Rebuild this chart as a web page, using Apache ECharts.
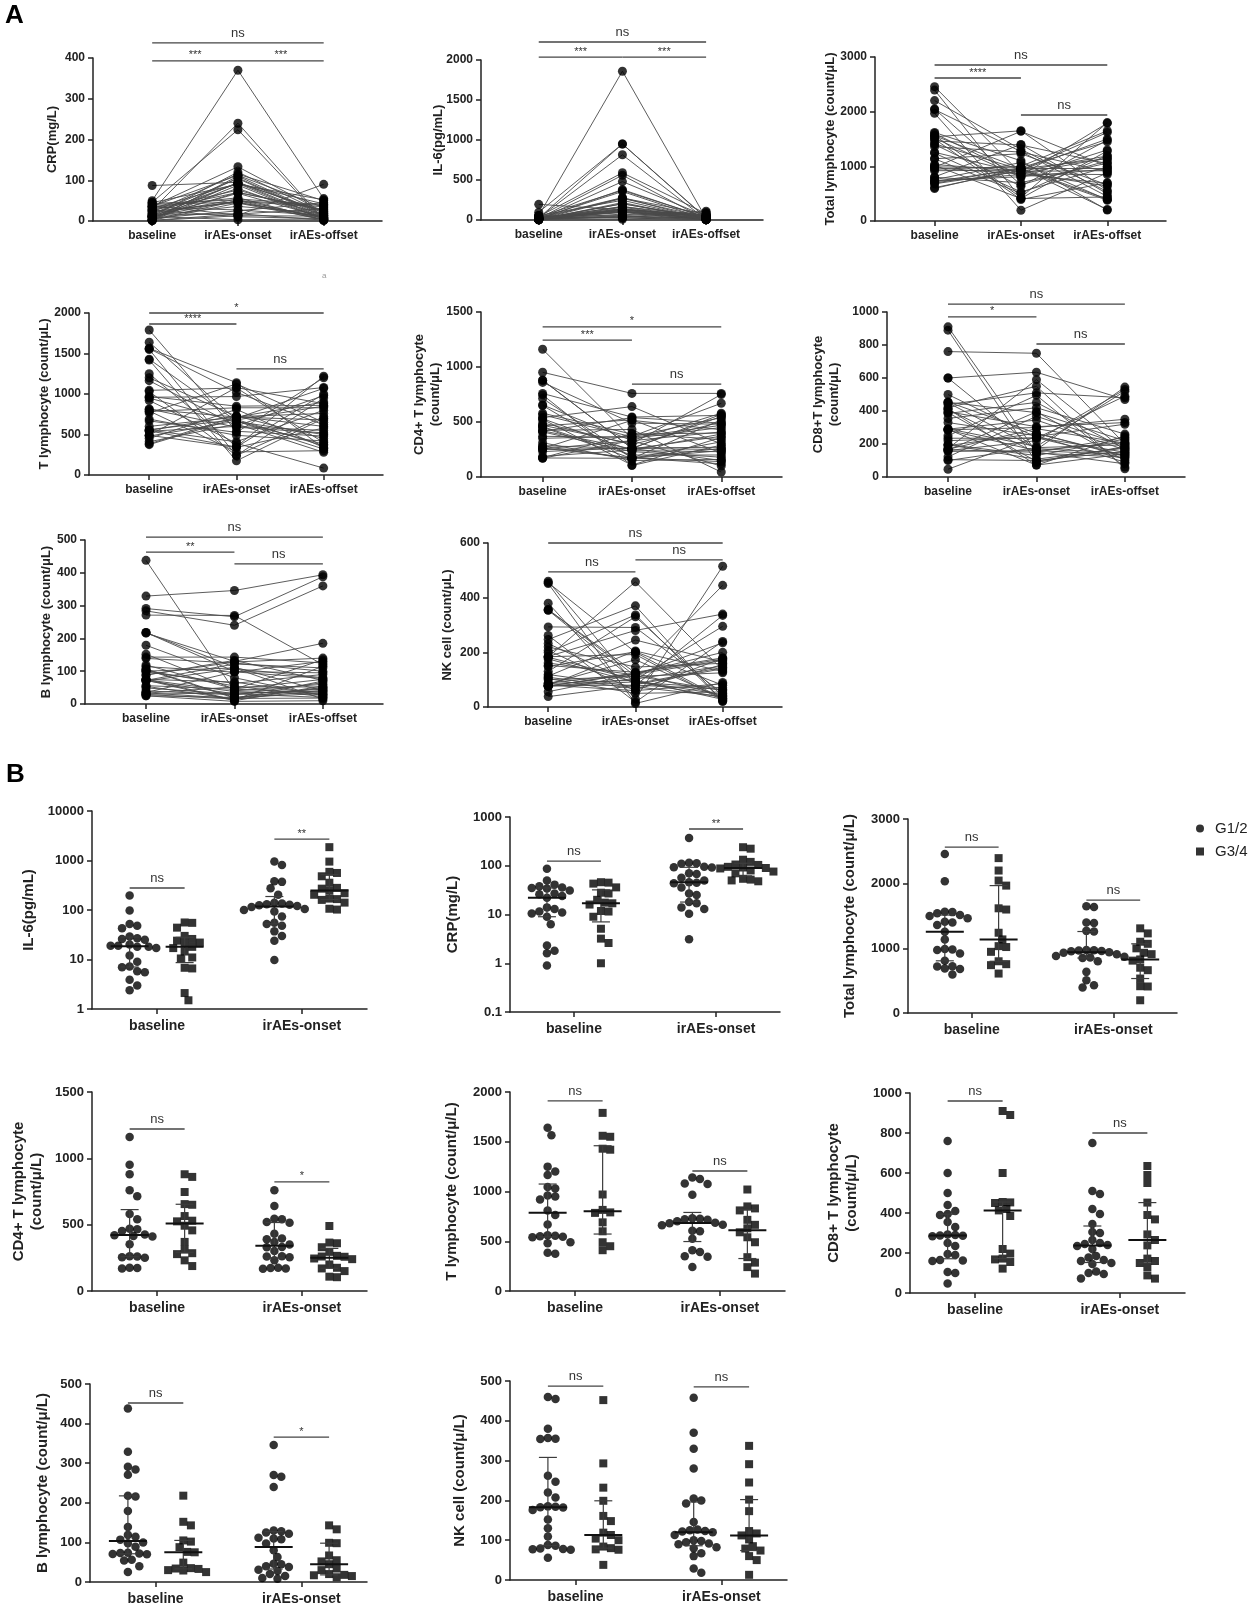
<!DOCTYPE html>
<html>
<head>
<meta charset="utf-8">
<script src="https://cdn.jsdelivr.net/npm/echarts@6/dist/echarts.min.js"></script>
<style>
html, body { margin: 0; padding: 0; background: #fff; }
#main { width: 1250px; height: 1607px; }
</style>
</head>
<body>
<div id="main"></div>
<script>
var timepoints = ['baseline', 'irAEs-onset', 'irAEs-offset'];
var grades = ['G1/2', 'G3/4'];

// IL-6 (pg/mL)
var il6_base_g12 = [196, 98, 52, 48, 43, 29, 27, 26, 25, 20, 19, 19, 18, 18, 17, 12, 9, 7.2, 7, 5.8, 5.5, 3.9, 3.0, 2.4];
var il6_base_g34 = [56, 55, 44, 30, 26, 24, 22, 21, 18, 17, 14.5, 11, 10.5, 6.8, 6.6, 2.1, 1.5];
var il6_onset_g12 = [128, 950, 55, 24, 370, 115, 140, 815, 30, 100, 125, 9.8, 52, 275, 93, 380, 74, 120, 37, 203, 48, 130, 105, 135];
var il6_onset_g34 = [1860, 247, 590, 102, 280, 950, 166, 356, 106, 560, 203, 170, 480, 141, 270, 218, 160];
var il6_offset = [60, 22, 110, 8, 35, 14, 45, 5, 95, 26, 12, 40, 18, 72, 6, 30, 9, 50, 16, 24, 3, 65, 11, 38, 20, 7, 80, 15, 4, 28, 55, 10, 42, 6, 25, 17, 48, 8, 33, 5, 4];

// CRP (mg/L)
var crp_base_g12 = [87, 50, 41, 38, 36, 35, 34, 31, 27, 26, 24, 22, 14, 13, 11.5, 11, 10.5, 9, 6.3, 2.3, 1.8, 1.6, 0.9];
var crp_base_g34 = [46, 45, 43, 36, 28, 27, 20, 17.5, 17, 16, 11.8, 11.5, 9, 5.1, 3.2, 2.6, 1.0];
var crp_onset_g12 = [95, 370, 46, 14, 112, 57, 27, 92, 10.4, 70, 45, 115, 18, 36, 50, 3.1, 93, 68, 25, 110, 44, 17, 13];
var crp_onset_g34 = [224, 90, 52, 133, 76, 240, 48, 104, 92, 54, 120, 80, 70, 106, 50, 95, 88];
var crp_offset = [20, 55, 8, 90, 33, 3, 14, 42, 6, 26, 11, 50, 2, 18, 38, 5, 24, 9, 45, 15, 4, 30, 12, 1, 52, 7, 22, 16, 3, 35, 10, 6, 40, 19, 5, 28, 13, 2, 8, 4];

// Total lymphocyte (count/uL)
var total_base_g12 = [2457, 2038, 1567, 1560, 1541, 1515, 1500, 1464, 1412, 1400, 1360, 1257, 1138, 990, 983, 975, 920, 807, 724, 720, 688, 680, 595];
var total_base_g34 = [2395, 2203, 2048, 1970, 1619, 1600, 1241, 1138, 1034, 1020, 946, 800, 755, 740, 610];
var total_onset_g12 = [870, 1270, 429, 960, 1650, 800, 393, 1390, 940, 636, 1260, 880, 507, 970, 1640, 860, 930, 1400, 955, 850, 975, 910, 965];
var total_onset_g34 = [414, 1309, 662, 197, 1102, 828, 533, 1231, 910, 410, 1000, 700, 1070, 810, 931];
var total_offset = [1150, 450, 1800, 960, 560, 1300, 700, 1050, 380, 1480, 900, 640, 1200, 210, 1000, 850, 1620, 500, 1140, 690, 1450, 920, 400, 1280, 540, 1100, 880, 200, 1790, 990, 660, 1190, 440, 1650, 1060, 390, 950, 1500];

// CD4+ T lymphocyte
var cd4_base_g12 = [1161, 952, 880, 759, 714, 580, 540, 470, 465, 452, 425, 420, 415, 410, 352, 262, 260, 255, 250, 175, 173, 170];
var cd4_base_g34 = [880, 860, 746, 655, 650, 565, 530, 525, 492, 457, 370, 312, 285, 278, 231, 188];
var cd4_onset_g12 = [350, 760, 260, 545, 175, 390, 640, 302, 520, 168, 432, 255, 540, 231, 369, 173, 515, 330, 262, 395, 170, 332];
var cd4_onset_g34 = [260, 490, 104, 330, 175, 365, 240, 108, 295, 200, 360, 150, 258, 170, 265, 245];
var cd4_offset = [450, 760, 250, 560, 140, 400, 300, 750, 220, 520, 45, 370, 490, 180, 670, 260, 430, 100, 550, 340, 240, 580, 150, 480, 290, 410, 120, 540, 230, 360, 500, 200, 470, 160, 570, 320, 270, 390];

// T lymphocyte
var t_base_g12 = [1640, 1565, 1250, 1200, 1165, 1045, 1030, 960, 950, 920, 810, 765, 668, 560, 555, 550, 545, 540, 490, 480, 385, 375];
var t_base_g34 = [1790, 1560, 1550, 1430, 1420, 970, 815, 790, 785, 690, 600, 490, 450, 410];
var t_onset_g12 = [680, 1140, 350, 725, 605, 1075, 241, 968, 660, 392, 715, 1125, 526, 685, 410, 730, 345, 600, 1080, 665, 720, 700];
var t_onset_g34 = [540, 1020, 240, 665, 175, 850, 590, 285, 830, 490, 715, 340, 810, 630];
var t_offset = [850, 330, 1220, 600, 980, 400, 720, 1080, 500, 85, 900, 650, 1200, 360, 800, 450, 1000, 550, 880, 320, 760, 1070, 480, 620, 950, 380, 700, 860, 520, 300, 830, 420, 680, 580, 340, 280];

// CD8+ T lymphocyte
var cd8_base_g12 = [760, 600, 500, 440, 410, 395, 390, 355, 330, 292, 290, 288, 286, 284, 250, 235, 195, 190, 165, 163, 160, 105, 100, 47];
var cd8_base_g34 = [910, 890, 600, 455, 453, 450, 420, 413, 385, 220, 197, 172, 168, 155, 122];
var cd8_onset_g12 = [750, 165, 240, 510, 145, 305, 95, 420, 250, 185, 345, 72, 300, 160, 495, 235, 108, 265, 150, 395, 220, 100, 178, 245];
var cd8_onset_g34 = [150, 88, 635, 265, 390, 172, 550, 72, 452, 238, 130, 590, 293, 160, 368];
var cd8_offset = [200, 545, 150, 480, 120, 330, 180, 260, 90, 520, 165, 140, 350, 210, 60, 490, 175, 130, 240, 100, 530, 155, 195, 320, 80, 185, 470, 125, 220, 145, 50, 250, 170, 110, 230, 160, 205, 135, 190];

// B lymphocyte
var bcell_base_g12 = [438, 329, 291, 284, 271, 218, 216, 179, 139, 119, 114, 107, 100, 98, 89, 74, 73, 72, 71, 70, 56, 54, 40, 25];
var bcell_base_g34 = [218, 152, 143, 105, 102, 88, 76, 75, 49, 35, 34, 33, 30, 29, 25];
var bcell_onset_g12 = [40, 346, 266, 240, 270, 112, 130, 80, 125, 46, 97, 20, 110, 63, 128, 38, 10, 122, 31, 108, 45, 15, 28, 8];
var bcell_onset_g34 = [99, 45, 143, 18, 55, 133, 12, 67, 30, 98, 17, 52, 34, 15, 20];
var bcell_offset = [60, 394, 388, 360, 120, 40, 185, 25, 100, 75, 130, 48, 15, 90, 140, 30, 55, 110, 20, 80, 135, 42, 65, 10, 95, 35, 125, 50, 22, 72, 115, 28, 45, 78, 18, 52, 38, 70, 32];

// NK cell
var nk_base_g12 = [460, 455, 380, 357, 355, 354, 262, 247, 220, 207, 185, 184, 183, 182, 176, 152, 130, 109, 88, 86, 79, 78, 77, 76, 56];
var nk_base_g34 = [452, 293, 232, 199, 161, 148, 119, 113, 104, 100, 84, 80, 77, 76, 38];
var nk_onset_g12 = [82, 200, 29, 113, 125, 95, 18, 370, 146, 60, 280, 192, 458, 100, 90, 127, 330, 67, 123, 98, 205, 80, 122, 92, 120];
var nk_onset_g34 = [13, 291, 85, 337, 117, 202, 74, 245, 50, 112, 173, 60, 123, 102, 79];
var nk_offset = [140, 30, 515, 60, 175, 45, 240, 20, 160, 85, 340, 25, 135, 295, 70, 180, 40, 155, 445, 28, 130, 65, 200, 35, 170, 90, 50, 145, 22, 235, 80, 38, 165, 55, 125, 32, 178, 42, 150, 335];

var measures = {
    il6: {b12: il6_base_g12, b34: il6_base_g34, o12: il6_onset_g12, o34: il6_onset_g34, off: il6_offset},
    crp: {b12: crp_base_g12, b34: crp_base_g34, o12: crp_onset_g12, o34: crp_onset_g34, off: crp_offset},
    total: {b12: total_base_g12, b34: total_base_g34, o12: total_onset_g12, o34: total_onset_g34, off: total_offset},
    cd4: {b12: cd4_base_g12, b34: cd4_base_g34, o12: cd4_onset_g12, o34: cd4_onset_g34, off: cd4_offset},
    t: {b12: t_base_g12, b34: t_base_g34, o12: t_onset_g12, o34: t_onset_g34, off: t_offset},
    cd8: {b12: cd8_base_g12, b34: cd8_base_g34, o12: cd8_onset_g12, o34: cd8_onset_g34, off: cd8_offset},
    bcell: {b12: bcell_base_g12, b34: bcell_base_g34, o12: bcell_onset_g12, o34: bcell_onset_g34, off: bcell_offset},
    nk: {b12: nk_base_g12, b34: nk_base_g34, o12: nk_onset_g12, o34: nk_onset_g34, off: nk_offset}
};

// panel A: paired plots, marks = [from, to, y, text]
var panelsA = [
    {m: 'crp', name: 'CRP(mg/L)', x0: 93, x1: 382, top: 58, y0: 221, max: 400, step: 100, nameX: 52,
        marks: [[0, 2, 437, 'ns'], [0, 1, 393, '***'], [1, 2, 393, '***']]},
    {m: 'il6', name: 'IL-6(pg/mL)', x0: 481, x1: 763, top: 60, y0: 220, max: 2000, step: 500, nameX: 438,
        marks: [[0, 2, 2225, 'ns'], [0, 1, 2037, '***'], [1, 2, 2037, '***']]},
    {m: 'total', name: 'Total lymphocyte (count/μL)', x0: 875, x1: 1166, top: 57, y0: 221, max: 3000, step: 1000, nameX: 830,
        marks: [[0, 2, 2854, 'ns'], [0, 1, 2616, '****'], [1, 2, 1939, 'ns']]},
    {m: 't', name: 'T lymphocyte (count/μL)', x0: 89, x1: 383, top: 313, y0: 475, max: 2000, step: 500, nameX: 44,
        marks: [[0, 2, 2000, '*'], [0, 1, 1864, '****'], [1, 2, 1309, 'ns']]},
    {m: 'cd4', name: 'CD4+ T lymphocyte\n(count/μL)', x0: 481, x1: 782, top: 312, y0: 477, max: 1500, step: 500, nameX: 427,
        marks: [[0, 2, 1364, '*'], [0, 1, 1245, '***'], [1, 2, 845, 'ns']]},
    {m: 'cd8', name: 'CD8+T lymphocyte\n(count/μL)', x0: 887, x1: 1185, top: 312, y0: 477, max: 1000, step: 200, nameX: 826,
        marks: [[0, 2, 1048, 'ns'], [0, 1, 970, '*'], [1, 2, 806, 'ns']]},
    {m: 'bcell', name: 'B lymphocyte (count/μL)', x0: 85, x1: 383, top: 540, y0: 704, max: 500, step: 100, nameX: 46,
        marks: [[0, 2, 509, 'ns'], [0, 1, 463, '**'], [1, 2, 427, 'ns']]},
    {m: 'nk', name: 'NK cell (count/μL)', x0: 488, x1: 782, top: 543, y0: 707, max: 600, step: 200, nameX: 447,
        marks: [[0, 2, 600, 'ns'], [0, 1, 494, 'ns'], [1, 2, 538, 'ns']]}
];

// panel B: grade comparison, marks = [category, y, text]
var panelsB = [
    {m: 'il6', name: 'IL-6(pg/mL)', x0: 92, x1: 367, top: 811, y0: 1009, log: true, min: 1, max: 10000, nameX: 29,
        marks: [[0, 278, 'ns'], [1, 2700, '**']]},
    {m: 'crp', name: 'CRP(mg/L)', x0: 510, x1: 780, top: 817, y0: 1012, log: true, min: 0.1, max: 1000, nameX: 453,
        marks: [[0, 125, 'ns'], [1, 567, '**']]},
    {m: 'total', name: 'Total lymphocyte (count/μ/L)', x0: 908, x1: 1177, top: 819, y0: 1013, max: 3000, step: 1000, nameX: 850,
        marks: [[0, 2566, 'ns'], [1, 1747, 'ns']]},
    {m: 'cd4', name: 'CD4+ T lymphocyte\n(count/μ/L)', x0: 92, x1: 367, top: 1092, y0: 1291, max: 1500, step: 500, nameX: 28,
        marks: [[0, 1221, 'ns'], [1, 822, '*']]},
    {m: 't', name: 'T lymphocyte (count/μ/L)', x0: 510, x1: 785, top: 1092, y0: 1291, max: 2000, step: 500, nameX: 452,
        marks: [[0, 1910, 'ns'], [1, 1206, 'ns']]},
    {m: 'cd8', name: 'CD8+ T lymphocyte\n(count/μ/L)', x0: 910, x1: 1185, top: 1093, y0: 1293, max: 1000, step: 200, nameX: 843,
        marks: [[0, 960, 'ns'], [1, 800, 'ns']]},
    {m: 'bcell', name: 'B lymphocyte (count/μ/L)', x0: 90, x1: 367, top: 1384, y0: 1582, max: 500, step: 100, nameX: 43,
        marks: [[0, 452, 'ns'], [1, 366, '*']]},
    {m: 'nk', name: 'NK cell (count/μ/L)', x0: 510, x1: 787, top: 1381, y0: 1580, max: 500, step: 100, nameX: 460,
        marks: [[0, 487, 'ns'], [1, 485, 'ns']]}
];

var FONT = 'Arial, "Liberation Sans", Helvetica, sans-serif';
var AX_MIN = -0.69, AX_MAX = 2.68;
var BX_MIN = -0.45, BX_MAX = 1.45, SHIFT = 0.19;
var INK = '#222';

var grids = [], xAxes = [], yAxes = [], series = [], graphics = [];

function fmtNum(v) {
    return String(+(+v).toPrecision(6));
}

function xAxisOpt(g, min, max, ticks, fs, margin) {
    return {
        gridIndex: g, type: 'value', min: min, max: max,
        axisLine: {show: true, onZero: false, lineStyle: {color: INK, width: 1.5}},
        axisTick: {show: true, customValues: ticks, length: 5, lineStyle: {color: INK, width: 1.5}},
        axisLabel: {customValues: ticks, formatter: function (v) { return timepoints[Math.round(v)]; },
            fontSize: fs, fontWeight: 'bold', color: INK, margin: margin, fontFamily: FONT},
        splitLine: {show: false}
    };
}

function yAxisOpt(g, p, fs) {
    var o = {
        gridIndex: g,
        axisLine: {show: true, onZero: false, lineStyle: {color: INK, width: 1.5}},
        axisTick: {show: true, length: 5, lineStyle: {color: INK, width: 1.5}},
        axisLabel: {fontSize: fs, fontWeight: 'bold', color: INK, margin: 8, fontFamily: FONT, formatter: fmtNum},
        splitLine: {show: false}
    };
    if (p.log) {
        o.type = 'log'; o.logBase = 10; o.min = p.min; o.max = p.max;
    } else {
        o.type = 'value'; o.min = 0; o.max = p.max; o.interval = p.step;
    }
    return o;
}

function yName(p, fs) {
    return {
        type: 'text', x: p.nameX, y: (p.top + p.y0) / 2, rotation: Math.PI / 2, silent: true,
        style: {text: p.name, align: 'center', verticalAlign: 'middle', fontSize: fs, fontWeight: 'bold',
            fontFamily: FONT, fill: INK, lineHeight: fs + 3}
    };
}

function bracketSeries(g, list) {
    return {
        type: 'custom', xAxisIndex: g, yAxisIndex: g, silent: true, z: 6, clip: false,
        data: list.map(function (b) { return [b.from, b.y]; }),
        renderItem: function (params, api) {
            var b = list[params.dataIndex];
            var p1 = api.coord([b.from, b.y]), p2 = api.coord([b.to, b.y]);
            var star = b.text.charAt(0) === '*';
            return {type: 'group', children: [
                {type: 'line', shape: {x1: p1[0], y1: p1[1], x2: p2[0], y2: p2[1]},
                    style: {stroke: '#444', lineWidth: 1.3}},
                {type: 'text', x: (p1[0] + p2[0]) / 2, y: p1[1] - (star ? 0 : 3),
                    style: {text: b.text, align: 'center', verticalAlign: 'bottom',
                        fontSize: star ? 11 : 13, fontFamily: FONT, fill: '#333'}}
            ]};
        }
    };
}

// sideways spread of a group so that symbols do not pile up (dot plot layout)
function swarm(values, xc, p) {
    var H = p.y0 - p.top, W = p.x1 - p.x0;
    var unitPx = W / (BX_MAX - BX_MIN);
    var f = p.log ? function (v) { return Math.log(v) / Math.LN10; } : function (v) { return v; };
    var lo = f(p.log ? p.min : 0), hi = f(p.max);
    var D = 7.6, step = D / 2;
    var order = values.map(function (v, i) { return i; })
        .sort(function (a, b) { return values[b] - values[a]; });
    var placed = [], out = [];
    order.forEach(function (i) {
        var py = (f(values[i]) - lo) / (hi - lo) * H;
        var dx = 0;
        for (var k = 0; k < 60; k++) {
            dx = (k % 2 === 1 ? 1 : -1) * Math.ceil(k / 2) * step;
            var ok = placed.every(function (q) {
                var ex = q[0] - dx, ey = q[1] - py;
                return ex * ex + ey * ey >= D * D;
            });
            if (ok) break;
        }
        placed.push([dx, py]);
        out.push([xc + dx / unitPx, values[i]]);
    });
    return out;
}

function quart(sorted, q) {
    var h = (sorted.length + 1) * q - 1;
    if (h <= 0) return sorted[0];
    if (h >= sorted.length - 1) return sorted[sorted.length - 1];
    var lo = Math.floor(h);
    return sorted[lo] + (h - lo) * (sorted[lo + 1] - sorted[lo]);
}

function summary(values) {
    var s = values.slice().sort(function (a, b) { return a - b; });
    return [quart(s, 0.5), quart(s, 0.25), quart(s, 0.75)];
}

function renderSummary(params, api) {
    var x = api.value(0);
    var m = api.coord([x, api.value(1)]);
    var a = api.coord([x, api.value(2)]);
    var b = api.coord([x, api.value(3)]);
    var thin = {stroke: '#3c3c3c', lineWidth: 1.2};
    return {type: 'group', children: [
        {type: 'line', shape: {x1: a[0], y1: a[1], x2: b[0], y2: b[1]}, style: thin},
        {type: 'line', shape: {x1: a[0] - 9, y1: a[1], x2: a[0] + 9, y2: a[1]}, style: thin},
        {type: 'line', shape: {x1: b[0] - 9, y1: b[1], x2: b[0] + 9, y2: b[1]}, style: thin},
        {type: 'line', shape: {x1: m[0] - 19, y1: m[1], x2: m[0] + 19, y2: m[1]}, style: {stroke: '#111', lineWidth: 2}}
    ]};
}

// ---- panel A ----
panelsA.forEach(function (p) {
    var g = grids.length;
    var d = measures[p.m];
    grids.push({left: p.x0, top: p.top, width: p.x1 - p.x0, height: p.y0 - p.top});
    xAxes.push(xAxisOpt(g, AX_MIN, AX_MAX, [0, 1, 2], 12, 9));
    yAxes.push(yAxisOpt(g, p, 12));

    var cols = [d.b12.concat(d.b34), d.o12.concat(d.o34), d.off];
    var n = Math.max(cols[0].length, cols[1].length, cols[2].length);
    var paths = [];
    for (var i = 0; i < n; i++) {
        var pts = [];
        cols.forEach(function (c, t) { if (c[i] != null) pts.push([t, c[i]]); });
        if (pts.length > 1) paths.push({coords: pts});
    }
    series.push({type: 'lines', coordinateSystem: 'cartesian2d', xAxisIndex: g, yAxisIndex: g,
        polyline: true, silent: true, data: paths, lineStyle: {color: '#4a4a4a', width: 1, opacity: 0.9}, z: 2});

    var dots = [];
    cols.forEach(function (c, t) { c.forEach(function (v) { dots.push([t, v]); }); });
    series.push({type: 'scatter', xAxisIndex: g, yAxisIndex: g, data: dots, symbolSize: 9,
        itemStyle: {color: '#000'}, clip: false, silent: true, z: 3});

    series.push(bracketSeries(g, p.marks.map(function (m) {
        return {from: m[0], to: m[1], y: m[2], text: m[3]};
    })));
    graphics.push(yName(p, 13));
});

// ---- panel B ----
panelsB.forEach(function (p) {
    var g = grids.length;
    var d = measures[p.m];
    grids.push({left: p.x0, top: p.top, width: p.x1 - p.x0, height: p.y0 - p.top});
    xAxes.push(xAxisOpt(g, BX_MIN, BX_MAX, [0, 1], 14, 10));
    yAxes.push(yAxisOpt(g, p, 13));

    var groups = [
        [d.b12, 0 - SHIFT, 0], [d.b34, 0 + SHIFT, 1],
        [d.o12, 1 - SHIFT, 0], [d.o34, 1 + SHIFT, 1]
    ];
    var pts = [[], []], stats = [];
    groups.forEach(function (gr) {
        pts[gr[2]] = pts[gr[2]].concat(swarm(gr[0], gr[1], p));
        stats.push([gr[1]].concat(summary(gr[0])));
    });
    series.push({name: grades[0], type: 'scatter', xAxisIndex: g, yAxisIndex: g, data: pts[0],
        symbol: 'circle', symbolSize: 8.5, itemStyle: {color: '#000'}, clip: false, silent: true, z: 3});
    series.push({name: grades[1], type: 'scatter', xAxisIndex: g, yAxisIndex: g, data: pts[1],
        symbol: 'rect', symbolSize: 8, itemStyle: {color: '#000'}, clip: false, silent: true, z: 3});
    series.push({type: 'custom', xAxisIndex: g, yAxisIndex: g, data: stats, renderItem: renderSummary,
        silent: true, clip: false, z: 5});

    series.push(bracketSeries(g, p.marks.map(function (m) {
        return {from: m[0] - SHIFT, to: m[0] + SHIFT, y: m[1], text: m[2]};
    })));
    graphics.push(yName(p, 15));
});

graphics.push({type: 'text', left: 5, top: 3, silent: true,
    style: {text: 'A', fontSize: 26, fontWeight: 'bold', fontFamily: FONT, fill: '#000'}});
graphics.push({type: 'text', left: 6, top: 762, silent: true,
    style: {text: 'B', fontSize: 26, fontWeight: 'bold', fontFamily: FONT, fill: '#000'}});
graphics.push({type: 'text', left: 322, top: 272, silent: true,
    style: {text: 'a', fontSize: 8, fontFamily: FONT, fill: '#999'}});

var chart = echarts.init(document.getElementById('main'));
chart.setOption({
    animation: false,
    backgroundColor: '#fff',
    textStyle: {fontFamily: FONT},
    legend: {
        orient: 'vertical', left: 1191, top: 816, itemWidth: 8, itemHeight: 8, itemGap: 8,
        selectedMode: false,
        data: [{name: grades[0], icon: 'circle'}, {name: grades[1], icon: 'rect'}],
        textStyle: {fontSize: 15, color: INK, fontFamily: FONT, padding: [0, 0, 0, 6]}
    },
    grid: grids,
    xAxis: xAxes,
    yAxis: yAxes,
    graphic: graphics,
    series: series
});
</script>
</body>
</html>
